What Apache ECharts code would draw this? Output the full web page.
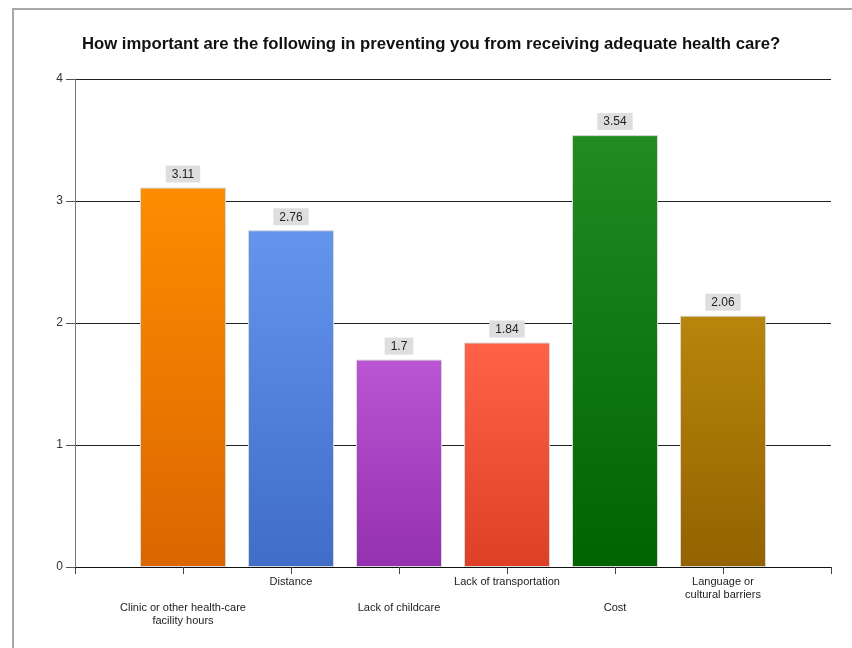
<!DOCTYPE html>
<html>
<head>
<meta charset="utf-8">
<script src="https://cdn.jsdelivr.net/npm/echarts@6/dist/echarts.min.js"></script>
<style>html,body{margin:0;padding:0;background:#fff}#c{width:852px;height:648px}</style>
</head>
<body>
<div id="c"></div>
<script>
var title = 'How important are the following in preventing you from receiving adequate health care?';
var categories = ['Clinic or other health-care\nfacility hours', 'Distance', 'Lack of childcare', 'Lack of transportation', 'Cost', 'Language or\ncultural barriers'];
var values = [3.11, 2.76, 1.7, 1.84, 3.54, 2.06];
var topColors = ['#FF8C00', '#6495ED', '#BA55D3', '#FF6347', '#228B22', '#B8860B'];
var bottomColors = ['#DB6600', '#3F6DC8', '#9431B0', '#DD4025', '#006400', '#946200'];
var yTicks = [0, 1, 2, 3, 4];

var axisData = [''].concat(categories).concat(['']);
var seriesData = [null];
values.forEach(function (v, i) {
  seriesData.push({
    value: v,
    itemStyle: {
      color: new echarts.graphic.LinearGradient(0, 0, 0, 1, [
        {offset: 0, color: topColors[i]},
        {offset: 1, color: bottomColors[i]}
      ])
    }
  });
});
seriesData.push(null);

var chart = echarts.init(document.getElementById('c'), null, {renderer: 'canvas'});
chart.setOption({
  animation: false,
  backgroundColor: '#fff',
  title: {
    text: title,
    left: 77,
    top: 31,
    textStyle: {fontFamily: 'Liberation Sans', fontWeight: 'bold', fontSize: 16.7, color: '#111'}
  },
  graphic: [{
    type: 'rect',
    shape: {x: 13, y: 9, width: 900, height: 700},
    style: {fill: 'none', stroke: '#a8a8a8', lineWidth: 2},
    silent: true
  }],
  grid: {left: 75, right: 21, top: 79, bottom: 81, containLabel: false},
  xAxis: {
    type: 'category',
    data: axisData,
    boundaryGap: false,
    axisLine: {show: true, lineStyle: {color: '#111', width: 1}},
    axisTick: {show: true, interval: 0, length: 7, lineStyle: {color: '#444'}},
    axisLabel: {
      interval: 0,
      margin: 8,
      fontFamily: 'Liberation Sans Narrow, Liberation Sans',
      fontSize: 11,
      lineHeight: 13,
      color: '#222',
      formatter: function (val, idx) {
        if (!val) return '';
        return (idx % 2 === 1) ? '\n\n' + val : val;
      }
    },
    splitLine: {show: false}
  },
  yAxis: {
    type: 'value',
    min: yTicks[0],
    max: yTicks[yTicks.length - 1],
    interval: 1,
    axisLine: {show: true, lineStyle: {color: '#777', width: 1}},
    axisTick: {show: true, length: 9, lineStyle: {color: '#555'}},
    axisLabel: {margin: 12, fontFamily: 'Liberation Sans', fontSize: 12, color: '#333'},
    splitLine: {show: true, lineStyle: {color: '#222', width: 1}}
  },
  series: [{
    type: 'bar',
    data: seriesData,
    barWidth: 86,
    itemStyle: {borderColor: '#d8d8d8', borderWidth: 1},
    label: {
      show: true,
      position: 'top',
      distance: 5,
      backgroundColor: '#dedede',
      padding: [3, 6, 2, 6],
      fontFamily: 'Liberation Sans',
      fontSize: 12,
      color: '#222'
    }
  }]
});
</script>
</body>
</html>
